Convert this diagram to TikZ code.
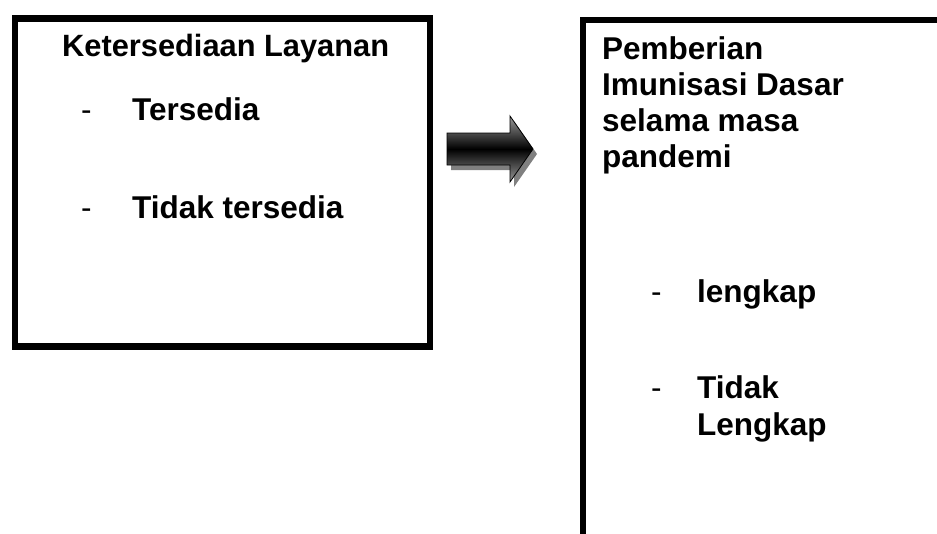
\documentclass[tikz,border=0pt]{standalone}
\usepackage{fontspec}
\setmainfont{Liberation Sans}
\begin{document}
\begin{tikzpicture}[x=1pt,y=-1pt,
  frame/.style={draw=black,line width=6.5pt,fill=white,inner sep=0pt,anchor=north west},
  txt/.style={inner sep=0pt,anchor=base west,font=\fontsize{31.5}{36}\selectfont\bfseries},
  titletxt/.style={txt,font=\fontsize{30.8}{36}\selectfont\bfseries},
  dashmark/.style={inner sep=0pt,anchor=base west,font=\fontsize{31.5}{36}\selectfont},
  blockarrow/.style={draw=black,line width=0.8pt,top color=black!40,bottom color=black!40,middle color=black},
  arrowshadow/.style={fill=black!50,draw=none}]
\useasboundingbox (0,0) rectangle (937,533);
\clip (0,0) rectangle (937,533);
% boxes
\node[frame,minimum width=415pt,minimum height=328pt] (leftbox) at (11.5,15) {};
\node[frame,minimum width=420pt,minimum height=560pt] (rightbox) at (579.5,16.5) {};
% arrow shadow and arrow
\fill[arrowshadow] (451,138) -- (514,138) -- (514,121) -- (537,154) -- (514,187) -- (514,170) -- (451,170) -- cycle;
\draw[blockarrow] (447,133) -- (510,133) -- (510,116) -- (533,149) -- (510,182) -- (510,165) -- (447,165) -- cycle;
% left text
\node[titletxt] (title) at (62,56) {Ketersediaan Layanan};
\node[dashmark] (d1) at (81,120) {-};
\node[txt] (t1) at (132,120) {Tersedia};
\node[dashmark] (d2) at (81,218) {-};
\node[txt] (t2) at (132,218) {Tidak tersedia};
% right text
\node[txt] (h1) at (602,59) {Pemberian};
\node[txt] (h2) at (602,95) {Imunisasi Dasar};
\node[txt] (h3) at (602,131) {selama masa};
\node[txt] (h4) at (602,167) {pandemi};
\node[dashmark] (d3) at (651,302) {-};
\node[txt] (r1) at (697,302) {lengkap};
\node[dashmark] (d4) at (651,398) {-};
\node[txt] (r2) at (697,398) {Tidak};
\node[txt] (r3) at (697,435) {Lengkap};
\end{tikzpicture}
\end{document}
